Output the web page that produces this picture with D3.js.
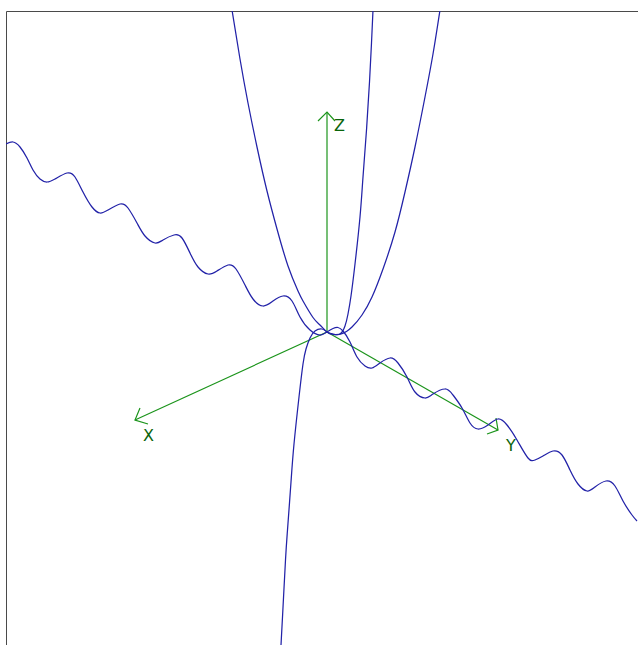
<!DOCTYPE html>
<html>
<head>
<meta charset="utf-8">
<script src="https://cdn.jsdelivr.net/npm/d3@7/dist/d3.min.js"></script>
<style>
html,body{margin:0;padding:0;background:#fff;overflow:hidden}
svg{display:block}
</style>
</head>
<body>
<script>
// Projected curve points (u right, v up, origin at the axes' meeting point)
const waveCurve = [[-321,188],[-314,190],[-307,185],[-300,174],[-294,162],[-287,153],[-280,150],[-272,153],[-260,159],[-252,155],[-244,140],[-235,125],[-227,119],[-219,122],[-207,128],[-199,124],[-190,109],[-182,96],[-172,89],[-164,92],[-153,97],[-145,94],[-137,79],[-129,65],[-119,58],[-110,61],[-99,67],[-91,63],[-82,47],[-74,33],[-64,26],[-54,31],[-44,36],[-35,31],[-27,15],[-17,2],[-7,-3],[0,0],[6,3.5],[11,4.5],[16,1],[23,-10],[30,-25],[38,-34],[45,-36],[53,-31],[63,-26],[71,-31],[80,-45],[88,-60],[98,-66],[106,-62],[118,-57],[126,-63],[135,-76],[143,-91],[151,-97],[161,-93],[171,-87],[180,-93],[190,-108],[201,-126],[208,-128],[216,-124],[226,-119],[235,-123],[243,-138],[251,-152],[260,-159],[268,-155],[279,-149],[288,-154],[296,-169],[305,-183],[310,-189]];
const cubicCurve = [[-46,-313],[-44.5,-285],[-41.5,-228],[-39.5,-198],[-36,-150],[-33,-112],[-28,-65],[-24,-32],[-21,-17],[-17,-6],[-12,1],[-5,3],[0,0],[6,-2],[13,-2],[18,6],[21,18],[24,36],[28,68],[33,115],[36,155],[39.5,202],[42.5,250],[44.5,289],[46,322]];
const parabolaCurve = [[-95,322],[-87,273],[-79,229],[-70,185],[-60,141],[-50,103],[-39,66],[-29,41],[-24,31],[-14,14.5],[-7,7],[0,0],[6,-2.5],[15,-1.7],[25,5],[35,17],[45,35],[56,63],[68,100],[78,140],[88,185],[98,235],[106,278],[113,322]];
const axisNames = ["X","Y","Z"];
const axisTips = [[-192,-88],[171,-98],[0,220]];
const axisBarbs = [[[-187,-76],[-179,-92]],[[169,-86],[160,-102]],[[-9,211],[8,211]]];
const axisLabelAt = [[-184,-109],[179,-119],[7,201]];

const width = 638, height = 645;
const x = d3.scaleLinear().domain([-321,311]).range([6,638]);
const y = d3.scaleLinear().domain([321,-313]).range([11,645]);

const svg = d3.select("body").append("svg").attr("width",width).attr("height",height);
svg.append("defs").append("clipPath").attr("id","plot").append("rect")
  .attr("x",x.range()[0]).attr("y",y.range()[0])
  .attr("width",x.range()[1]-x.range()[0]).attr("height",y.range()[1]-y.range()[0]);

// Frame: top and left edges only
svg.append("path")
  .attr("d",`M${x.range()[0]+0.5},${height}V${y.range()[0]+0.5}H${width}`)
  .attr("fill","none").attr("stroke","#4a4a4a").attr("stroke-width",1);

const plot = svg.append("g").attr("clip-path","url(#plot)");

// Axes
const straight = d3.line().x(d=>x(d[0])).y(d=>y(d[1]));
const axes = plot.append("g").attr("fill","none").attr("stroke","#1b941b").attr("stroke-width",1.2);
axisTips.forEach((tip,i)=>{
  axes.append("path").attr("d",straight([[0,0],tip]));
  axes.append("path").attr("d",straight([axisBarbs[i][0],tip,axisBarbs[i][1]]));
});

// Curves
const smooth = d3.line().x(d=>x(d[0])).y(d=>y(d[1])).curve(d3.curveNatural);
plot.append("g").attr("fill","none").attr("stroke","#2222a8").attr("stroke-width",1.25)
  .selectAll("path").data([waveCurve,cubicCurve,parabolaCurve]).join("path").attr("d",smooth);

// Axis letters
svg.append("g").selectAll("text").data(axisNames).join("text")
  .attr("x",(d,i)=>x(axisLabelAt[i][0]))
  .attr("y",(d,i)=>y(axisLabelAt[i][1]))
  .attr("font-family","'DejaVu Sans',sans-serif").attr("font-size",16)
  .attr("fill","#0a640a").text(d=>d);
</script>
</body>
</html>
